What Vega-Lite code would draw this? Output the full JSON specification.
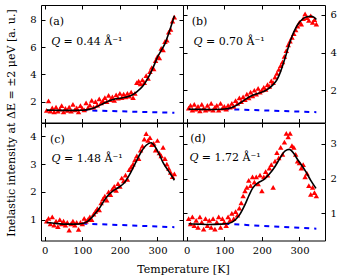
{
  "$schema": "https://vega.github.io/schema/vega-lite/v6.json",
  "padding": {"left": 4, "top": 4, "right": 5, "bottom": 5},
  "bounds": "flush",
  "columns": 2,
  "spacing": 0,
  "datasets": {
    "pts": [
      {"panel":"a","T":5,"value":1.35},{"panel":"a","T":10,"value":2.05},{"panel":"a","T":15,"value":1.3},{"panel":"a","T":20,"value":1.55},{"panel":"a","T":25,"value":1.25},{"panel":"a","T":30,"value":1.6},{"panel":"a","T":35,"value":1.3},{"panel":"a","T":40,"value":1.45},{"panel":"a","T":45,"value":1.7},{"panel":"a","T":50,"value":1.25},
      {"panel":"a","T":55,"value":1.5},{"panel":"a","T":60,"value":1.35},{"panel":"a","T":65,"value":1.6},{"panel":"a","T":70,"value":1.3},{"panel":"a","T":75,"value":1.8},{"panel":"a","T":80,"value":1.4},{"panel":"a","T":85,"value":1.55},{"panel":"a","T":90,"value":1.25},{"panel":"a","T":95,"value":1.7},{"panel":"a","T":100,"value":1.5},
      {"panel":"a","T":105,"value":1.4},{"panel":"a","T":110,"value":1.9},{"panel":"a","T":115,"value":1.55},{"panel":"a","T":120,"value":1.75},{"panel":"a","T":125,"value":2.1},{"panel":"a","T":130,"value":1.6},{"panel":"a","T":135,"value":2.0},{"panel":"a","T":140,"value":1.75},{"panel":"a","T":145,"value":2.2},{"panel":"a","T":150,"value":1.9},
      {"panel":"a","T":155,"value":2.05},{"panel":"a","T":160,"value":2.3},{"panel":"a","T":165,"value":2.0},{"panel":"a","T":170,"value":2.45},{"panel":"a","T":175,"value":2.15},{"panel":"a","T":180,"value":2.35},{"panel":"a","T":185,"value":2.1},{"panel":"a","T":190,"value":2.5},{"panel":"a","T":195,"value":2.25},{"panel":"a","T":200,"value":2.6},
      {"panel":"a","T":205,"value":2.3},{"panel":"a","T":210,"value":2.55},{"panel":"a","T":215,"value":2.35},{"panel":"a","T":220,"value":2.6},{"panel":"a","T":225,"value":2.4},{"panel":"a","T":230,"value":2.7},{"panel":"a","T":235,"value":2.3},{"panel":"a","T":240,"value":2.6},{"panel":"a","T":245,"value":3.4},{"panel":"a","T":250,"value":3.5},
      {"panel":"a","T":255,"value":3.3},{"panel":"a","T":260,"value":3.6},{"panel":"a","T":265,"value":3.4},{"panel":"a","T":270,"value":3.9},{"panel":"a","T":275,"value":3.7},{"panel":"a","T":280,"value":4.2},{"panel":"a","T":285,"value":4.5},{"panel":"a","T":290,"value":4.4},{"panel":"a","T":295,"value":5.0},{"panel":"a","T":300,"value":5.3},
      {"panel":"a","T":305,"value":5.2},{"panel":"a","T":310,"value":5.9},{"panel":"a","T":315,"value":5.8},{"panel":"a","T":320,"value":6.4},{"panel":"a","T":325,"value":6.5},{"panel":"a","T":330,"value":7.1},{"panel":"a","T":335,"value":7.3},{"panel":"a","T":340,"value":7.9},{"panel":"a","T":345,"value":8.2},

      {"panel":"b","T":5,"value":1.05},{"panel":"b","T":10,"value":1.2},{"panel":"b","T":15,"value":0.95},{"panel":"b","T":20,"value":1.25},{"panel":"b","T":25,"value":1.0},{"panel":"b","T":30,"value":1.15},{"panel":"b","T":35,"value":0.9},{"panel":"b","T":40,"value":1.25},{"panel":"b","T":45,"value":1.05},{"panel":"b","T":50,"value":0.95},
      {"panel":"b","T":55,"value":1.2},{"panel":"b","T":60,"value":1.0},{"panel":"b","T":65,"value":1.3},{"panel":"b","T":70,"value":0.95},{"panel":"b","T":75,"value":1.1},{"panel":"b","T":80,"value":1.2},{"panel":"b","T":85,"value":0.95},{"panel":"b","T":90,"value":1.3},{"panel":"b","T":95,"value":1.05},{"panel":"b","T":100,"value":1.15},
      {"panel":"b","T":105,"value":1.0},{"panel":"b","T":110,"value":1.2},{"panel":"b","T":115,"value":1.1},{"panel":"b","T":120,"value":1.3},{"panel":"b","T":125,"value":1.15},{"panel":"b","T":130,"value":1.45},{"panel":"b","T":135,"value":1.3},{"panel":"b","T":140,"value":1.6},{"panel":"b","T":145,"value":1.4},{"panel":"b","T":150,"value":1.65},
      {"panel":"b","T":155,"value":1.5},{"panel":"b","T":160,"value":1.8},{"panel":"b","T":165,"value":1.6},{"panel":"b","T":170,"value":1.9},{"panel":"b","T":175,"value":1.7},{"panel":"b","T":180,"value":2.0},{"panel":"b","T":185,"value":1.8},{"panel":"b","T":190,"value":2.1},{"panel":"b","T":195,"value":1.9},{"panel":"b","T":200,"value":2.0},
      {"panel":"b","T":205,"value":2.15},{"panel":"b","T":210,"value":2.05},{"panel":"b","T":215,"value":2.3},{"panel":"b","T":220,"value":2.2},{"panel":"b","T":225,"value":2.5},{"panel":"b","T":230,"value":2.4},{"panel":"b","T":235,"value":2.7},{"panel":"b","T":240,"value":2.9},{"panel":"b","T":245,"value":3.1},{"panel":"b","T":250,"value":3.3},
      {"panel":"b","T":255,"value":3.5},{"panel":"b","T":260,"value":3.8},{"panel":"b","T":265,"value":4.1},{"panel":"b","T":270,"value":4.4},{"panel":"b","T":275,"value":4.6},{"panel":"b","T":280,"value":4.8},{"panel":"b","T":285,"value":5.0},{"panel":"b","T":290,"value":5.2},{"panel":"b","T":295,"value":5.4},{"panel":"b","T":300,"value":5.6},
      {"panel":"b","T":305,"value":5.5},{"panel":"b","T":310,"value":5.8},{"panel":"b","T":315,"value":6.05},{"panel":"b","T":320,"value":5.85},{"panel":"b","T":325,"value":5.7},{"panel":"b","T":330,"value":5.95},{"panel":"b","T":335,"value":5.6},{"panel":"b","T":340,"value":5.75},{"panel":"b","T":345,"value":5.5},

      {"panel":"c","T":5,"value":0.95},{"panel":"c","T":10,"value":1.05},{"panel":"c","T":15,"value":0.85},{"panel":"c","T":20,"value":1.1},{"panel":"c","T":25,"value":0.8},{"panel":"c","T":30,"value":0.95},{"panel":"c","T":35,"value":0.75},{"panel":"c","T":40,"value":1.0},{"panel":"c","T":45,"value":0.85},{"panel":"c","T":50,"value":0.95},
      {"panel":"c","T":55,"value":0.8},{"panel":"c","T":60,"value":0.9},{"panel":"c","T":65,"value":0.62},{"panel":"c","T":70,"value":0.85},{"panel":"c","T":75,"value":0.95},{"panel":"c","T":80,"value":0.8},{"panel":"c","T":85,"value":0.9},{"panel":"c","T":90,"value":0.65},{"panel":"c","T":95,"value":0.9},{"panel":"c","T":100,"value":0.85},
      {"panel":"c","T":105,"value":1.05},{"panel":"c","T":110,"value":0.95},{"panel":"c","T":115,"value":1.0},{"panel":"c","T":120,"value":1.1},{"panel":"c","T":125,"value":1.0},{"panel":"c","T":130,"value":1.2},{"panel":"c","T":135,"value":1.3},{"panel":"c","T":140,"value":1.4},{"panel":"c","T":145,"value":1.35},{"panel":"c","T":150,"value":1.6},
      {"panel":"c","T":155,"value":1.75},{"panel":"c","T":160,"value":1.85},{"panel":"c","T":165,"value":1.7},{"panel":"c","T":170,"value":2.0},{"panel":"c","T":175,"value":1.9},{"panel":"c","T":180,"value":2.1},{"panel":"c","T":185,"value":2.2},{"panel":"c","T":190,"value":2.05},{"panel":"c","T":195,"value":2.3},{"panel":"c","T":200,"value":2.2},
      {"panel":"c","T":205,"value":2.5},{"panel":"c","T":210,"value":2.4},{"panel":"c","T":215,"value":2.6},{"panel":"c","T":220,"value":2.45},{"panel":"c","T":225,"value":2.8},{"panel":"c","T":230,"value":2.9},{"panel":"c","T":235,"value":3.0},{"panel":"c","T":240,"value":3.15},{"panel":"c","T":245,"value":3.3},{"panel":"c","T":250,"value":3.2},
      {"panel":"c","T":255,"value":3.5},{"panel":"c","T":260,"value":3.65},{"panel":"c","T":265,"value":3.9},{"panel":"c","T":270,"value":4.1},{"panel":"c","T":275,"value":3.85},{"panel":"c","T":280,"value":3.95},{"panel":"c","T":285,"value":3.7},{"panel":"c","T":290,"value":3.75},{"panel":"c","T":295,"value":3.5},{"panel":"c","T":300,"value":3.85},
      {"panel":"c","T":305,"value":3.4},{"panel":"c","T":310,"value":3.3},{"panel":"c","T":315,"value":3.6},{"panel":"c","T":320,"value":3.2},{"panel":"c","T":325,"value":3.0},{"panel":"c","T":330,"value":2.85},{"panel":"c","T":335,"value":2.7},{"panel":"c","T":340,"value":2.55},{"panel":"c","T":345,"value":2.65},

      {"panel":"d","T":5,"value":0.85},{"panel":"d","T":10,"value":0.7},{"panel":"d","T":15,"value":0.9},{"panel":"d","T":20,"value":0.65},{"panel":"d","T":25,"value":0.8},{"panel":"d","T":30,"value":0.6},{"panel":"d","T":35,"value":0.9},{"panel":"d","T":40,"value":0.75},{"panel":"d","T":45,"value":0.55},{"panel":"d","T":50,"value":0.85},
      {"panel":"d","T":55,"value":0.65},{"panel":"d","T":60,"value":0.8},{"panel":"d","T":65,"value":0.6},{"panel":"d","T":70,"value":0.85},{"panel":"d","T":75,"value":0.55},{"panel":"d","T":80,"value":0.75},{"panel":"d","T":85,"value":0.9},{"panel":"d","T":90,"value":0.6},{"panel":"d","T":95,"value":0.85},{"panel":"d","T":100,"value":0.75},
      {"panel":"d","T":105,"value":0.65},{"panel":"d","T":110,"value":0.9},{"panel":"d","T":115,"value":0.8},{"panel":"d","T":120,"value":1.0},{"panel":"d","T":125,"value":0.85},{"panel":"d","T":130,"value":1.05},{"panel":"d","T":135,"value":0.95},{"panel":"d","T":140,"value":1.15},{"panel":"d","T":145,"value":1.3},{"panel":"d","T":150,"value":1.5},
      {"panel":"d","T":155,"value":1.65},{"panel":"d","T":160,"value":1.75},{"panel":"d","T":165,"value":1.95},{"panel":"d","T":170,"value":1.8},{"panel":"d","T":175,"value":2.05},{"panel":"d","T":180,"value":1.9},{"panel":"d","T":185,"value":2.05},{"panel":"d","T":190,"value":1.85},{"panel":"d","T":195,"value":2.1},{"panel":"d","T":200,"value":1.65},
      {"panel":"d","T":205,"value":2.05},{"panel":"d","T":210,"value":2.2},{"panel":"d","T":215,"value":2.1},{"panel":"d","T":220,"value":2.3},{"panel":"d","T":225,"value":2.4},{"panel":"d","T":230,"value":1.75},{"panel":"d","T":235,"value":2.5},{"panel":"d","T":240,"value":2.75},{"panel":"d","T":245,"value":2.6},{"panel":"d","T":250,"value":2.9},
      {"panel":"d","T":255,"value":2.7},{"panel":"d","T":260,"value":3.05},{"panel":"d","T":265,"value":3.3},{"panel":"d","T":270,"value":3.2},{"panel":"d","T":275,"value":3.3},{"panel":"d","T":280,"value":2.95},{"panel":"d","T":285,"value":2.9},{"panel":"d","T":290,"value":2.7},{"panel":"d","T":295,"value":2.5},{"panel":"d","T":300,"value":2.45},
      {"panel":"d","T":305,"value":2.3},{"panel":"d","T":310,"value":2.4},{"panel":"d","T":315,"value":2.05},{"panel":"d","T":320,"value":2.15},{"panel":"d","T":325,"value":1.8},{"panel":"d","T":330,"value":1.55},{"panel":"d","T":335,"value":1.75},{"panel":"d","T":340,"value":1.6},{"panel":"d","T":345,"value":1.5}
    ],
    "fit": [
      {"panel":"a","T":5,"value":1.38},{"panel":"a","T":20,"value":1.37},{"panel":"a","T":40,"value":1.36},{"panel":"a","T":60,"value":1.36},{"panel":"a","T":80,"value":1.36},{"panel":"a","T":100,"value":1.37},{"panel":"a","T":120,"value":1.45},{"panel":"a","T":140,"value":1.65},{"panel":"a","T":155,"value":1.85},{"panel":"a","T":170,"value":2.05},{"panel":"a","T":185,"value":2.18},{"panel":"a","T":200,"value":2.25},{"panel":"a","T":215,"value":2.32},{"panel":"a","T":230,"value":2.45},{"panel":"a","T":245,"value":2.72},{"panel":"a","T":260,"value":3.1},{"panel":"a","T":270,"value":3.5},{"panel":"a","T":280,"value":4.0},{"panel":"a","T":290,"value":4.6},{"panel":"a","T":300,"value":5.25},{"panel":"a","T":310,"value":5.75},{"panel":"a","T":320,"value":6.25},{"panel":"a","T":330,"value":7.0},{"panel":"a","T":340,"value":7.85},{"panel":"a","T":345,"value":8.3},
      {"panel":"b","T":5,"value":1.0},{"panel":"b","T":30,"value":0.99},{"panel":"b","T":60,"value":0.98},{"panel":"b","T":90,"value":0.99},{"panel":"b","T":110,"value":1.03},{"panel":"b","T":125,"value":1.12},{"panel":"b","T":140,"value":1.3},{"panel":"b","T":155,"value":1.5},{"panel":"b","T":170,"value":1.68},{"panel":"b","T":185,"value":1.8},{"panel":"b","T":200,"value":1.9},{"panel":"b","T":215,"value":2.05},{"panel":"b","T":230,"value":2.3},{"panel":"b","T":240,"value":2.55},{"panel":"b","T":250,"value":3.0},{"panel":"b","T":260,"value":3.6},{"panel":"b","T":270,"value":4.25},{"panel":"b","T":280,"value":4.85},{"panel":"b","T":290,"value":5.3},{"panel":"b","T":300,"value":5.6},{"panel":"b","T":310,"value":5.8},{"panel":"b","T":320,"value":5.9},{"panel":"b","T":330,"value":5.92},{"panel":"b","T":340,"value":5.85},{"panel":"b","T":345,"value":5.75},
      {"panel":"c","T":5,"value":0.9},{"panel":"c","T":20,"value":0.88},{"panel":"c","T":40,"value":0.85},{"panel":"c","T":60,"value":0.84},{"panel":"c","T":80,"value":0.84},{"panel":"c","T":100,"value":0.86},{"panel":"c","T":115,"value":0.95},{"panel":"c","T":130,"value":1.15},{"panel":"c","T":145,"value":1.4},{"panel":"c","T":155,"value":1.62},{"panel":"c","T":165,"value":1.82},{"panel":"c","T":180,"value":2.02},{"panel":"c","T":195,"value":2.15},{"panel":"c","T":210,"value":2.3},{"panel":"c","T":225,"value":2.6},{"panel":"c","T":240,"value":3.0},{"panel":"c","T":255,"value":3.4},{"panel":"c","T":270,"value":3.68},{"panel":"c","T":283,"value":3.77},{"panel":"c","T":295,"value":3.6},{"panel":"c","T":305,"value":3.35},{"panel":"c","T":315,"value":3.05},{"panel":"c","T":327,"value":2.8},{"panel":"c","T":337,"value":2.6},{"panel":"c","T":345,"value":2.42},
      {"panel":"d","T":5,"value":0.7},{"panel":"d","T":30,"value":0.69},{"panel":"d","T":60,"value":0.68},{"panel":"d","T":90,"value":0.69},{"panel":"d","T":110,"value":0.71},{"panel":"d","T":125,"value":0.78},{"panel":"d","T":140,"value":0.95},{"panel":"d","T":155,"value":1.25},{"panel":"d","T":165,"value":1.5},{"panel":"d","T":175,"value":1.72},{"panel":"d","T":190,"value":1.88},{"panel":"d","T":205,"value":1.97},{"panel":"d","T":220,"value":2.13},{"panel":"d","T":235,"value":2.35},{"panel":"d","T":250,"value":2.62},{"panel":"d","T":262,"value":2.8},{"panel":"d","T":273,"value":2.84},{"panel":"d","T":285,"value":2.72},{"panel":"d","T":295,"value":2.55},{"panel":"d","T":305,"value":2.4},{"panel":"d","T":317,"value":2.2},{"panel":"d","T":330,"value":1.95},{"panel":"d","T":344,"value":1.72}
    ],
    "bg": [
      {"panel":"a","T":100,"value":1.37},{"panel":"a","T":345,"value":1.18},
      {"panel":"b","T":100,"value":1.0},{"panel":"b","T":345,"value":0.84},
      {"panel":"c","T":100,"value":0.86},{"panel":"c","T":345,"value":0.73},
      {"panel":"d","T":100,"value":0.7},{"panel":"d","T":345,"value":0.56}
    ],
    "labels": [
      {"panel":"a","T":11,"value":7.8,"text":"(a)","style":"normal"},{"panel":"a","T":17,"value":6.4,"text":"Q","style":"italic"},{"panel":"a","T":50,"value":6.4,"text":"= 0.44 Å⁻¹","style":"normal"},
      {"panel":"b","T":13,"value":5.6,"text":"(b)","style":"normal"},{"panel":"b","T":18,"value":4.58,"text":"Q","style":"italic"},{"panel":"b","T":51,"value":4.58,"text":"= 0.70 Å⁻¹","style":"normal"},
      {"panel":"c","T":14,"value":3.88,"text":"(c)","style":"normal"},{"panel":"c","T":18,"value":3.17,"text":"Q","style":"italic"},{"panel":"c","T":51,"value":3.17,"text":"= 1.48 Å⁻¹","style":"normal"},
      {"panel":"d","T":9,"value":3.15,"text":"(d)","style":"normal"},{"panel":"d","T":7,"value":2.58,"text":"Q","style":"italic"},{"panel":"d","T":40,"value":2.58,"text":"= 1.72 Å⁻¹","style":"normal"}
    ]
  },
  "concat": [
    {
      "width": 142, "height": 117.5,
      "layer": [
        {"data": {"name": "bg"}, "transform": [{"filter": "datum.panel === 'a'"}],
         "mark": {"type": "line", "color": "#0000ff", "strokeWidth": 2, "strokeDash": [5, 5]},
         "encoding": {
           "x": {"field": "T", "type": "quantitative", "scale": {"domain": [-10, 368], "nice": false, "zero": false}, "axis": {"orient": "top", "labels": false, "title": null, "values": [0, 100, 200, 300]}},
           "y": {"field": "value", "type": "quantitative", "scale": {"domain": [0.47, 9.08], "nice": false, "zero": false}, "axis": {"orient": "right", "labels": false, "title": null, "values": [2, 4, 6, 8]}}}},
        {"data": {"name": "pts"}, "transform": [{"filter": "datum.panel === 'a'"}],
         "mark": {"type": "point", "shape": "triangle-up", "filled": true, "color": "#ff0000", "opacity": 1, "size": 30},
         "encoding": {
           "x": {"field": "T", "type": "quantitative", "axis": {"orient": "bottom", "labels": false, "title": null, "values": [0, 100, 200, 300]}},
           "y": {"field": "value", "type": "quantitative", "axis": {"orient": "left", "values": [2, 4, 6, 8], "title": "Inelastic intensity at ΔE = ±2 μeV [a. u.]", "titleX": -27, "titleY": 117.5, "titleAngle": -90, "titleAlign": "center", "titleBaseline": "alphabetic"}}}},
        {"data": {"name": "fit"}, "transform": [{"filter": "datum.panel === 'a'"}],
         "mark": {"type": "line", "color": "black", "strokeWidth": 1.6, "interpolate": "monotone"},
         "encoding": {"x": {"field": "T", "type": "quantitative", "axis": null}, "y": {"field": "value", "type": "quantitative", "axis": null}}},
        {"data": {"name": "labels"}, "transform": [{"filter": "datum.panel === 'a' && datum.style === 'normal'"}],
         "mark": {"type": "text", "align": "left", "baseline": "middle", "fontSize": 11, "font": "DejaVu Serif", "color": "black"},
         "encoding": {"x": {"field": "T", "type": "quantitative", "axis": null}, "y": {"field": "value", "type": "quantitative", "axis": null}, "text": {"field": "text"}}},
        {"data": {"name": "labels"}, "transform": [{"filter": "datum.panel === 'a' && datum.style === 'italic'"}],
         "mark": {"type": "text", "align": "left", "baseline": "middle", "fontSize": 11, "font": "DejaVu Serif", "fontStyle": "italic", "color": "black"},
         "encoding": {"x": {"field": "T", "type": "quantitative", "axis": null}, "y": {"field": "value", "type": "quantitative", "axis": null}, "text": {"field": "text"}}}
      ],
      "resolve": {"axis": {"x": "independent", "y": "independent"}}
    },
    {
      "width": 142, "height": 117.5,
      "layer": [
        {"data": {"name": "bg"}, "transform": [{"filter": "datum.panel === 'b'"}],
         "mark": {"type": "line", "color": "#0000ff", "strokeWidth": 2, "strokeDash": [5, 5]},
         "encoding": {
           "x": {"field": "T", "type": "quantitative", "scale": {"domain": [-10, 368], "nice": false, "zero": false}, "axis": {"orient": "top", "labels": false, "title": null, "values": [0, 100, 200, 300]}},
           "y": {"field": "value", "type": "quantitative", "scale": {"domain": [0.29, 6.52], "nice": false, "zero": false}, "axis": {"orient": "left", "labels": false, "title": null, "values": [2, 4, 6]}}}},
        {"data": {"name": "pts"}, "transform": [{"filter": "datum.panel === 'b'"}],
         "mark": {"type": "point", "shape": "triangle-up", "filled": true, "color": "#ff0000", "opacity": 1, "size": 30},
         "encoding": {
           "x": {"field": "T", "type": "quantitative", "axis": {"orient": "bottom", "labels": false, "title": null, "values": [0, 100, 200, 300]}},
           "y": {"field": "value", "type": "quantitative", "axis": {"orient": "right", "values": [2, 4, 6], "title": null}}}},
        {"data": {"name": "fit"}, "transform": [{"filter": "datum.panel === 'b'"}],
         "mark": {"type": "line", "color": "black", "strokeWidth": 1.6, "interpolate": "monotone"},
         "encoding": {"x": {"field": "T", "type": "quantitative", "axis": null}, "y": {"field": "value", "type": "quantitative", "axis": null}}},
        {"data": {"name": "labels"}, "transform": [{"filter": "datum.panel === 'b' && datum.style === 'normal'"}],
         "mark": {"type": "text", "align": "left", "baseline": "middle", "fontSize": 11, "font": "DejaVu Serif", "color": "black"},
         "encoding": {"x": {"field": "T", "type": "quantitative", "axis": null}, "y": {"field": "value", "type": "quantitative", "axis": null}, "text": {"field": "text"}}},
        {"data": {"name": "labels"}, "transform": [{"filter": "datum.panel === 'b' && datum.style === 'italic'"}],
         "mark": {"type": "text", "align": "left", "baseline": "middle", "fontSize": 11, "font": "DejaVu Serif", "fontStyle": "italic", "color": "black"},
         "encoding": {"x": {"field": "T", "type": "quantitative", "axis": null}, "y": {"field": "value", "type": "quantitative", "axis": null}, "text": {"field": "text"}}}
      ],
      "resolve": {"axis": {"x": "independent", "y": "independent"}}
    },
    {
      "width": 142, "height": 117.5,
      "layer": [
        {"data": {"name": "bg"}, "transform": [{"filter": "datum.panel === 'c'"}],
         "mark": {"type": "line", "color": "#0000ff", "strokeWidth": 2, "strokeDash": [5, 5]},
         "encoding": {
           "x": {"field": "T", "type": "quantitative", "scale": {"domain": [-10, 368], "nice": false, "zero": false}, "axis": {"orient": "top", "labels": false, "title": null, "values": [0, 100, 200, 300]}},
           "y": {"field": "value", "type": "quantitative", "scale": {"domain": [0.25, 4.48], "nice": false, "zero": false}, "axis": {"orient": "right", "labels": false, "title": null, "values": [1, 2, 3, 4]}}}},
        {"data": {"name": "pts"}, "transform": [{"filter": "datum.panel === 'c'"}],
         "mark": {"type": "point", "shape": "triangle-up", "filled": true, "color": "#ff0000", "opacity": 1, "size": 30},
         "encoding": {
           "x": {"field": "T", "type": "quantitative", "axis": {"orient": "bottom", "values": [0, 100, 200, 300], "title": "Temperature [K]", "titleX": 142, "titleY": 32, "titleAlign": "center", "titleBaseline": "alphabetic"}},
           "y": {"field": "value", "type": "quantitative", "axis": {"orient": "left", "values": [1, 2, 3, 4], "title": null}}}},
        {"data": {"name": "fit"}, "transform": [{"filter": "datum.panel === 'c'"}],
         "mark": {"type": "line", "color": "black", "strokeWidth": 1.6, "interpolate": "monotone"},
         "encoding": {"x": {"field": "T", "type": "quantitative", "axis": null}, "y": {"field": "value", "type": "quantitative", "axis": null}}},
        {"data": {"name": "labels"}, "transform": [{"filter": "datum.panel === 'c' && datum.style === 'normal'"}],
         "mark": {"type": "text", "align": "left", "baseline": "middle", "fontSize": 11, "font": "DejaVu Serif", "color": "black"},
         "encoding": {"x": {"field": "T", "type": "quantitative", "axis": null}, "y": {"field": "value", "type": "quantitative", "axis": null}, "text": {"field": "text"}}},
        {"data": {"name": "labels"}, "transform": [{"filter": "datum.panel === 'c' && datum.style === 'italic'"}],
         "mark": {"type": "text", "align": "left", "baseline": "middle", "fontSize": 11, "font": "DejaVu Serif", "fontStyle": "italic", "color": "black"},
         "encoding": {"x": {"field": "T", "type": "quantitative", "axis": null}, "y": {"field": "value", "type": "quantitative", "axis": null}, "text": {"field": "text"}}}
      ],
      "resolve": {"axis": {"x": "independent", "y": "independent"}}
    },
    {
      "width": 142, "height": 117.5,
      "layer": [
        {"data": {"name": "bg"}, "transform": [{"filter": "datum.panel === 'd'"}],
         "mark": {"type": "line", "color": "#0000ff", "strokeWidth": 2, "strokeDash": [5, 5]},
         "encoding": {
           "x": {"field": "T", "type": "quantitative", "scale": {"domain": [-10, 368], "nice": false, "zero": false}, "axis": {"orient": "top", "labels": false, "title": null, "values": [0, 100, 200, 300]}},
           "y": {"field": "value", "type": "quantitative", "scale": {"domain": [0.22, 3.6], "nice": false, "zero": false}, "axis": {"orient": "left", "labels": false, "title": null, "values": [1, 2, 3]}}}},
        {"data": {"name": "pts"}, "transform": [{"filter": "datum.panel === 'd'"}],
         "mark": {"type": "point", "shape": "triangle-up", "filled": true, "color": "#ff0000", "opacity": 1, "size": 30},
         "encoding": {
           "x": {"field": "T", "type": "quantitative", "axis": {"orient": "bottom", "values": [0, 100, 200, 300], "title": null}},
           "y": {"field": "value", "type": "quantitative", "axis": {"orient": "right", "values": [1, 2, 3], "title": null}}}},
        {"data": {"name": "fit"}, "transform": [{"filter": "datum.panel === 'd'"}],
         "mark": {"type": "line", "color": "black", "strokeWidth": 1.6, "interpolate": "monotone"},
         "encoding": {"x": {"field": "T", "type": "quantitative", "axis": null}, "y": {"field": "value", "type": "quantitative", "axis": null}}},
        {"data": {"name": "labels"}, "transform": [{"filter": "datum.panel === 'd' && datum.style === 'normal'"}],
         "mark": {"type": "text", "align": "left", "baseline": "middle", "fontSize": 11, "font": "DejaVu Serif", "color": "black"},
         "encoding": {"x": {"field": "T", "type": "quantitative", "axis": null}, "y": {"field": "value", "type": "quantitative", "axis": null}, "text": {"field": "text"}}},
        {"data": {"name": "labels"}, "transform": [{"filter": "datum.panel === 'd' && datum.style === 'italic'"}],
         "mark": {"type": "text", "align": "left", "baseline": "middle", "fontSize": 11, "font": "DejaVu Serif", "fontStyle": "italic", "color": "black"},
         "encoding": {"x": {"field": "T", "type": "quantitative", "axis": null}, "y": {"field": "value", "type": "quantitative", "axis": null}, "text": {"field": "text"}}}
      ],
      "resolve": {"axis": {"x": "independent", "y": "independent"}}
    }
  ],
  "config": {
    "font": "DejaVu Serif",
    "view": {"stroke": null},
    "axis": {
      "labelFont": "DejaVu Serif", "labelFontSize": 10, "labelColor": "black",
      "titleFont": "DejaVu Serif", "titleFontSize": 11, "titleColor": "black", "titleFontWeight": "normal",
      "domainColor": "black", "domainWidth": 1, "tickColor": "black", "tickWidth": 1,
      "grid": false, "tickSize": -4, "labelPadding": 9
    }
  }
}
